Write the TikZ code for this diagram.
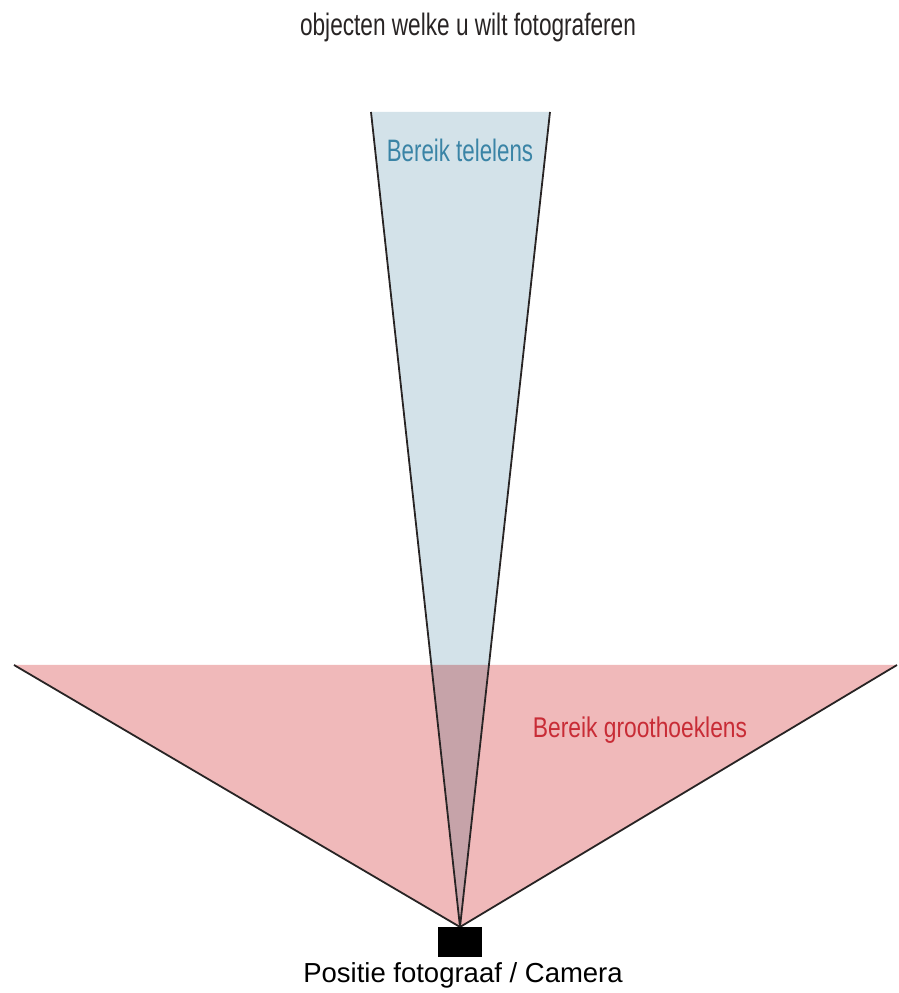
\documentclass[tikz,border=0pt]{standalone}
\usepackage{fontspec}
\setmainfont{Liberation Sans}
\usetikzlibrary{calc}
\definecolor{widefill}{RGB}{240,185,186}
\definecolor{telefill}{RGB}{211,226,233}
\definecolor{telelabel}{RGB}{58,132,166}
\definecolor{widelabel}{RGB}{200,44,54}
\definecolor{edgecol}{RGB}{40,36,36}

\begin{document}
\begin{tikzpicture}[x=1pt,y=1pt,
    lbl/.style={inner sep=0pt,font=\fontsize{31}{34}\selectfont}]
  \useasboundingbox (0,0) rectangle (899,993);
  % fields of view
  \coordinate (W1) at (14,328);
  \coordinate (W2) at (897,328);
  \coordinate (T1) at (371,881);
  \coordinate (T2) at (550,881);
  \coordinate (A) at (460,66);
  \fill[widefill] (W1) -- (W2) -- (A) -- cycle;
  \begin{scope}[blend mode=multiply]
    \fill[telefill] (T1) -- (T2) -- (A) -- cycle;
  \end{scope}
  \path[draw=edgecol,line width=1.8pt] (A) edge (W1) edge (W2) edge (T1) edge (T2);
  % camera
  \node[fill=black,minimum width=44pt,minimum height=30pt,inner sep=0pt] (cam) at (460,51) {};
  \node[inner sep=0pt,font=\fontsize{27.5}{30}\selectfont] (pos) at (463,18) {Positie fotograaf / Camera};
  % labels
  \node[lbl,text=edgecol] (obj) at (468,966) {\scalebox{0.73}[1]{objecten welke u wilt fotograferen}};
  \node[lbl,text=telelabel] (tele) at (460,843) {\scalebox{0.72}[1]{Bereik telelens}};
  \node[lbl,text=widelabel] (wide) at (640,263) {\scalebox{0.8}[1]{\fontsize{28.5}{32}\selectfont Bereik groothoeklens}};
\end{tikzpicture}
\end{document}
